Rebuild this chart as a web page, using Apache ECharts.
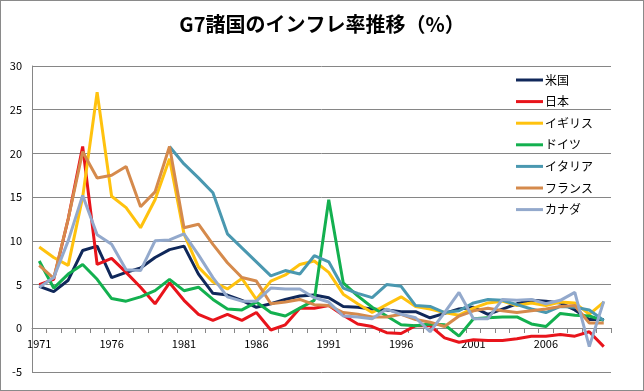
<!DOCTYPE html>
<html><head><meta charset="utf-8">
<script src="https://cdn.jsdelivr.net/npm/echarts@6/dist/echarts.min.js"></script>
<style>
html,body{margin:0;padding:0;background:#fff;}
#c{width:644px;height:391px;box-sizing:border-box;border:1px solid #8a8a8a;}
</style></head>
<body><div id="c"></div>
<script>
const years = [];
for (let y = 1971; y <= 2010; y++) years.push(String(y));

const usa = [4.8,4.2,5.5,8.9,9.4,5.8,6.4,6.9,8.1,9.0,9.4,6.2,4.0,3.8,3.2,2.4,2.8,3.3,3.7,3.8,3.5,2.5,2.4,2.2,2.1,1.9,1.9,1.2,1.7,2.2,2.4,1.6,2.2,2.8,3.2,3.1,2.9,2.1,1.0,1.0];
const japan = [5.0,5.6,12.5,20.8,7.3,8.0,6.4,4.7,2.8,5.2,3.2,1.6,0.9,1.6,0.9,1.8,-0.2,0.4,2.3,2.3,2.6,1.5,0.5,0.2,-0.5,-0.6,0.3,0.3,-1.1,-1.6,-1.3,-1.4,-1.4,-1.2,-0.9,-0.9,-0.7,-0.9,-0.4,-2.1];
const uk = [9.3,8.1,7.2,15.0,27.0,15.1,13.8,11.5,14.7,19.4,10.8,7.0,5.3,4.5,5.7,3.3,5.4,6.1,7.3,7.7,6.4,3.9,2.8,1.8,2.7,3.6,2.5,2.2,1.8,1.5,2.3,2.9,3.1,2.6,2.9,2.6,3.0,2.9,1.6,3.0];
const germany = [7.7,4.6,6.2,7.3,5.6,3.4,3.1,3.6,4.3,5.6,4.3,4.7,3.3,2.2,2.1,3.0,1.8,1.4,2.3,3.2,14.7,5.2,3.7,2.4,1.4,0.4,0.3,0.5,0.4,-0.9,1.1,1.2,1.3,1.3,0.5,0.2,1.7,1.5,1.4,0.9];
const italy = [null,null,null,null,null,null,null,null,null,20.8,18.8,17.2,15.5,10.8,9.2,7.6,6.0,6.6,6.2,8.3,7.6,4.6,4.0,3.5,5.0,4.8,2.6,2.5,1.8,2.0,2.9,3.3,3.2,2.7,2.2,1.8,2.5,2.4,2.1,0.9];
const france = [7.2,5.7,12.5,20.2,17.2,17.5,18.5,13.9,15.6,20.8,11.5,11.9,9.6,7.5,5.8,5.4,2.8,3.0,3.3,2.7,2.6,1.8,1.6,1.3,1.3,1.6,1.0,0.7,0.2,1.4,2.0,2.3,2.0,1.8,2.0,2.2,2.5,2.6,0.6,0.6];
const canada = [4.7,5.8,10.0,15.2,10.7,9.6,6.7,6.6,10.0,10.1,10.8,8.4,5.8,3.6,3.1,3.1,4.6,4.5,4.5,3.5,3.0,1.4,1.3,1.1,2.2,1.6,1.2,-0.4,1.8,4.1,1.1,1.1,3.3,3.2,3.3,2.8,3.2,4.1,-2.1,3.1];

const names = ['米国','日本','イギリス','ドイツ','イタリア','フランス','カナダ'];
const colors = ['#10285A','#E8141B','#FFC20E','#13B04F','#4A98B0','#D58A4C','#93A9CC'];
const dataSets = [usa, japan, uk, germany, italy, france, canada];

const font = 'Noto Sans CJK JP';
const chart = echarts.init(document.getElementById('c'));
chart.setOption({
  animation: false,
  title: {
    text: 'G7諸国のインフレ率推移（%）',
    left: 'center', top: 8,
    textStyle: {fontFamily: font, fontSize: 20, fontWeight: 'bold', color: '#000'}
  },
  legend: {
    orient: 'vertical', left: 510, top: 68,
    icon: 'rect', itemWidth: 27, itemHeight: 3, itemGap: 9.6,
    textStyle: {fontFamily: font, fontSize: 12, color: '#000', padding: [0,0,0,-3]},
    data: names
  },
  grid: {left: 31, right: 32, top: 65, bottom: 18, containLabel: false},
  xAxis: {
    type: 'category', data: years, boundaryGap: true,
    offset: -44,
    axisLine: {onZero: false, lineStyle: {color: '#868686', width: 1}},
    axisTick: {show: true, interval: 0, length: 5, lineStyle: {color: '#868686'}},
    axisLabel: {interval: 4, margin: 10, fontFamily: font, fontSize: 11, color: '#000'},
    splitLine: {show: false}
  },
  yAxis: {
    type: 'value', min: -5, max: 30, interval: 5,
    axisLine: {show: true, lineStyle: {color: '#868686'}},
    axisTick: {show: false},
    axisLabel: {margin: 10, fontFamily: font, fontSize: 11, color: '#000'},
    splitLine: {lineStyle: {color: '#868686', width: 1}}
  },
  series: names.map((n, k) => ({
    name: n, type: 'line', data: dataSets[k], showSymbol: false, symbol: 'none',
    connectNulls: false,
    lineStyle: {width: 3, color: colors[k]}, itemStyle: {color: colors[k]}
  }))
});
</script></body></html>
